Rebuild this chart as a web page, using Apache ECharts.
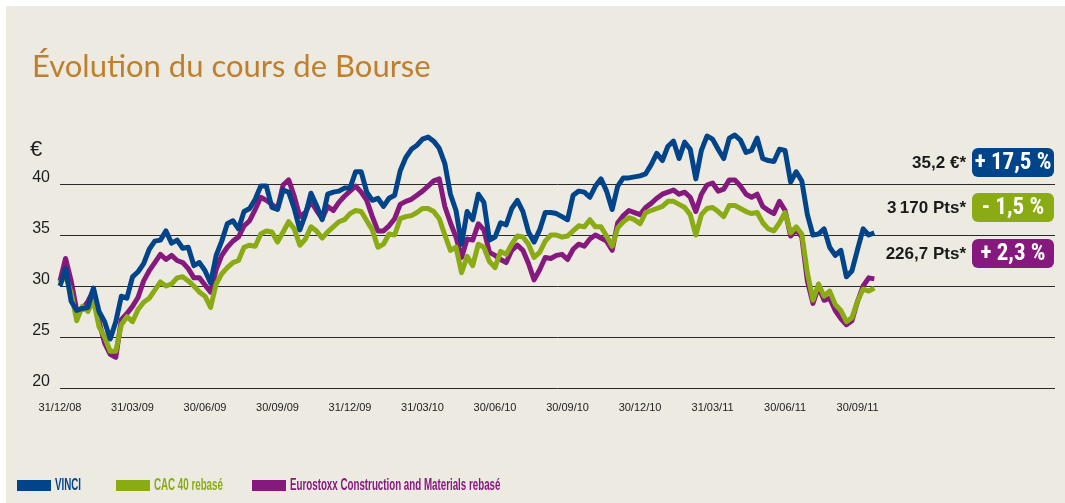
<!DOCTYPE html>
<html>
<head>
<meta charset="utf-8">
<script src="https://cdn.jsdelivr.net/npm/echarts@6/dist/echarts.min.js"></script>
<style>
  html, body { margin: 0; padding: 0; background: #ffffff; }
  #panel { position: absolute; left: 6px; top: 6px; width: 1059px; height: 497px; background: #edeae2; }
  #main { position: absolute; left: 0; top: 0; width: 1065px; height: 503px; }
</style>
</head>
<body>
<div id="panel"></div>
<div id="main"></div>
<script>
// weekly closes, 31/12/08 -> end Oct 2011 (CAC and Eurostoxx rebased on VINCI)
const tickLabels = ["31/12/08", "31/03/09", "30/06/09", "30/09/09", "31/12/09", "31/03/10",
  "30/06/10", "30/09/10", "30/12/10", "31/03/11", "30/06/11", "30/09/11"];

const vinci = [
  30.0, 31.7, 28.5, 27.6, 27.8, 27.9, 29.8, 27.5, 26.5, 24.8,
  26.5, 29.0, 28.8, 30.9, 31.4, 32.2, 33.6, 34.4, 34.5, 35.4,
  34.2, 34.5, 33.7, 33.8, 32.0, 32.3, 31.5, 30.3, 33.0, 34.4,
  36.1, 36.4, 35.6, 37.3, 37.6, 38.5, 39.8, 39.8, 37.7, 37.5,
  39.4, 39.2, 37.6, 35.5, 37.0, 39.1, 37.9, 36.5, 39.0, 39.2,
  39.3, 39.6, 39.6, 41.2, 41.2, 39.2, 38.4, 38.6, 37.8, 38.6,
  38.9, 41.3, 42.6, 43.4, 43.8, 44.4, 44.6, 44.2, 43.5, 42.0,
  39.0, 37.4, 34.1, 37.3, 36.5, 39.0, 38.2, 34.5, 34.8, 36.2,
  36.0, 37.6, 38.4, 37.3, 35.3, 34.3, 35.5, 37.2, 37.2, 37.1,
  36.8, 36.5, 38.9, 39.3, 39.2, 38.7, 39.8, 40.5, 39.3, 37.5,
  39.8, 40.6, 40.6, 40.7, 40.8, 41.0, 41.9, 43.0, 42.3, 43.7,
  44.2, 42.5, 44.1, 43.4, 40.5, 43.3, 44.7, 44.4, 43.4, 42.5,
  44.5, 44.8, 44.3, 43.1, 43.3, 44.5, 42.5, 42.3, 42.2, 43.4,
  43.3, 40.2, 41.2, 40.3, 37.0, 35.0, 35.1, 35.6, 33.8, 33.0,
  33.5, 30.9, 31.5, 33.6, 35.6, 35.0, 35.2
];

const cac40 = [
  30.3, 31.0, 29.3, 26.6, 28.0, 27.5, 28.6, 26.0, 25.0, 23.6,
  23.6, 26.2, 27.0, 26.5, 27.7, 28.4, 28.8, 29.6, 30.4, 30.0,
  30.2, 30.8, 30.9, 30.5, 30.0, 29.4, 29.0, 27.9, 30.2, 31.2,
  31.8, 32.3, 32.5, 33.8, 34.0, 33.9, 35.1, 35.4, 35.3, 34.3,
  35.3, 36.3, 35.6, 34.0, 34.6, 35.8, 35.4, 34.7, 35.3, 35.8,
  36.3, 36.5, 37.1, 37.4, 37.3, 36.4, 35.5, 33.8, 34.1, 35.1,
  35.0, 36.6, 36.8, 36.9, 37.2, 37.6, 37.6, 37.3, 36.6, 35.0,
  33.5, 33.8, 31.3, 32.9, 32.0, 34.1, 33.8, 32.4, 31.8, 33.4,
  33.1, 34.1, 34.9, 34.8, 34.1, 32.8, 33.3, 34.4, 35.0, 35.0,
  34.8, 34.9, 35.4, 35.9, 35.8, 36.5, 35.8, 35.8, 34.9, 33.9,
  35.7, 36.3, 36.7, 36.5, 36.1, 37.2, 37.4, 37.6, 37.8, 38.3,
  38.3, 38.0, 37.7, 37.0, 35.0, 37.0, 37.6, 37.7, 37.3, 36.8,
  37.9, 37.9, 37.6, 37.3, 37.1, 37.2, 36.2, 35.6, 35.4, 36.2,
  37.2, 35.2, 35.8, 35.1, 31.3, 28.6, 30.2, 29.0, 29.5, 28.2,
  27.6, 26.5, 26.9, 28.5, 29.7, 29.5, 29.8
];

const eurostoxx = [
  30.5, 32.7, 30.5, 27.6, 27.7, 28.5, 29.6, 26.5, 24.4, 23.3,
  23.0, 26.7, 27.3, 28.0, 28.9, 30.5, 31.5, 32.3, 33.1, 32.6,
  33.0, 32.5, 32.3, 31.7, 30.8, 30.8, 30.1, 29.4, 31.6, 33.0,
  33.8, 34.4, 34.8, 35.9, 36.4, 37.5, 38.7, 38.4, 38.0, 37.6,
  39.9, 40.4, 38.8, 36.8, 37.2, 38.3, 37.4, 36.6, 37.8, 37.4,
  38.2, 38.8, 39.3, 39.8, 39.2, 38.4, 36.8, 35.4, 35.4, 35.9,
  36.6, 38.0, 38.3, 38.5, 38.9, 39.3, 39.8, 40.3, 40.5, 37.8,
  36.2, 34.8, 32.8, 34.6, 34.5, 36.1, 35.5, 33.3, 33.0, 32.6,
  32.3, 33.5, 34.0, 33.5, 32.2, 30.6, 31.6, 32.8, 32.7, 33.0,
  33.1, 32.6, 33.6, 34.1, 33.9, 34.6, 35.0, 34.7, 34.4, 33.5,
  36.2, 36.9, 37.4, 37.2, 37.0, 37.7, 38.1, 38.6, 39.0, 39.2,
  39.4, 39.0, 39.2, 38.7, 37.3, 39.0, 39.9, 40.1, 39.3, 39.5,
  40.4, 40.4, 39.8, 39.0, 38.7, 39.0, 37.8, 37.4, 37.1, 38.3,
  37.4, 34.9, 35.5, 34.8, 30.5, 28.3, 29.9, 28.6, 28.8, 27.6,
  26.8, 26.2, 26.6, 28.5, 30.0, 30.8, 30.7
];

const seriesNames = ["VINCI", "CAC 40 rebasé", "Eurostoxx Construction and Materials rebasé"];
const lastValues = ["35,2 €*", "3\u2009170 Pts*", "226,7 Pts*"];
const changes = ["+ 17,5 %", "- 1,5 %", "+ 2,3 %"];

const BLUE = "#01448a";
const GREEN = "#8aab13";
const PURPLE = "#86197d";
const NARROW = '"Liberation Sans Narrow", "Roboto Condensed", "DejaVu Sans Condensed", sans-serif';
const ARIAL = '"Liberation Sans", Arial, sans-serif';

const toPoints = (arr) => arr.map((v, i) => [i, v]);

const lineSeries = (name, data, color) => ({
  name: name,
  type: "line",
  data: toPoints(data),
  showSymbol: false,
  clip: false,
  color: color,
  lineStyle: { color: color, width: 5, join: "round" },
  emphasis: { disabled: true },
});

// badge with last value on its left
const badge = (top, color, valueText, changeText) => [
  {
    type: "text",
    style: {
      text: valueText, x: 966, y: top + 15, align: "right", verticalAlign: "middle",
      fill: "#1a1a1a", font: "bold 17px " + ARIAL,
    },
  },
  {
    type: "rect",
    shape: { x: 972, y: top, width: 82, height: 29, r: 6 },
    style: { fill: color },
  },
  {
    type: "text",
    style: {
      text: changeText, x: 1013, y: top + 15, align: "center", verticalAlign: "middle",
      fill: "#ffffff", font: "bold 23px " + NARROW,
    },
  },
];

// legend drawn by hand: the source uses a condensed bold face
const legendItem = (left, color, name) => [
  {
    type: "rect",
    shape: { x: left, y: 480, width: 34, height: 11 },
    style: { fill: color },
  },
  {
    type: "text",
    x: left + 38,
    y: 486,
    scaleX: 0.61,
    style: {
      text: name, x: 0, y: 0, verticalAlign: "middle",
      fill: color, font: "bold 16px " + ARIAL,
    },
  },
];

const chart = echarts.init(document.getElementById("main"), null, { renderer: "canvas" });

chart.setOption({
  backgroundColor: "transparent",
  animation: false,
  grid: { left: 60, right: 10, top: 184, bottom: 115 },
  xAxis: {
    type: "value",
    min: 0,
    max: 178.4,
    interval: 13,
    axisLine: { show: false },
    axisTick: { show: false },
    splitLine: { show: false },
    axisLabel: {
      margin: 14,
      color: "#222",
      fontSize: 11,
      fontFamily: ARIAL,
      formatter: (v) => tickLabels[Math.round(v / 13)] || "",
    },
  },
  yAxis: {
    type: "value",
    min: 20,
    max: 40,
    interval: 5,
    axisLine: { show: false },
    axisTick: { show: false },
    axisLabel: {
      margin: 10,
      color: "#1e1e1e",
      fontSize: 16,
      fontFamily: ARIAL,
      verticalAlign: "bottom",
      lineHeight: 13,
    },
    splitLine: { lineStyle: { color: "#2a2a2a", width: 1 } },
  },
  graphic: [
    {
      type: "text",
      style: {
        text: "Évolution du cours de Bourse", x: 32, y: 51,
        fill: "#c07f2c", font: '31px Lato, "Open Sans", sans-serif',
      },
    },
    {
      type: "text",
      style: {
        text: "€", x: 30, y: 139,
        fill: "#1e1e1e", font: "22px " + ARIAL,
      },
    },
    ...badge(148, BLUE, lastValues[0], changes[0]),
    ...badge(193, GREEN, lastValues[1], changes[1]),
    ...badge(239, PURPLE, lastValues[2], changes[2]),
    ...legendItem(17, BLUE, seriesNames[0]),
    ...legendItem(116, GREEN, seriesNames[1]),
    ...legendItem(252, PURPLE, seriesNames[2]),
  ],
  // drawing order: purple under green, blue on top
  series: [
    lineSeries(seriesNames[2], eurostoxx, PURPLE),
    lineSeries(seriesNames[1], cac40, GREEN),
    lineSeries(seriesNames[0], vinci, BLUE),
  ],
});
</script>
</body>
</html>
